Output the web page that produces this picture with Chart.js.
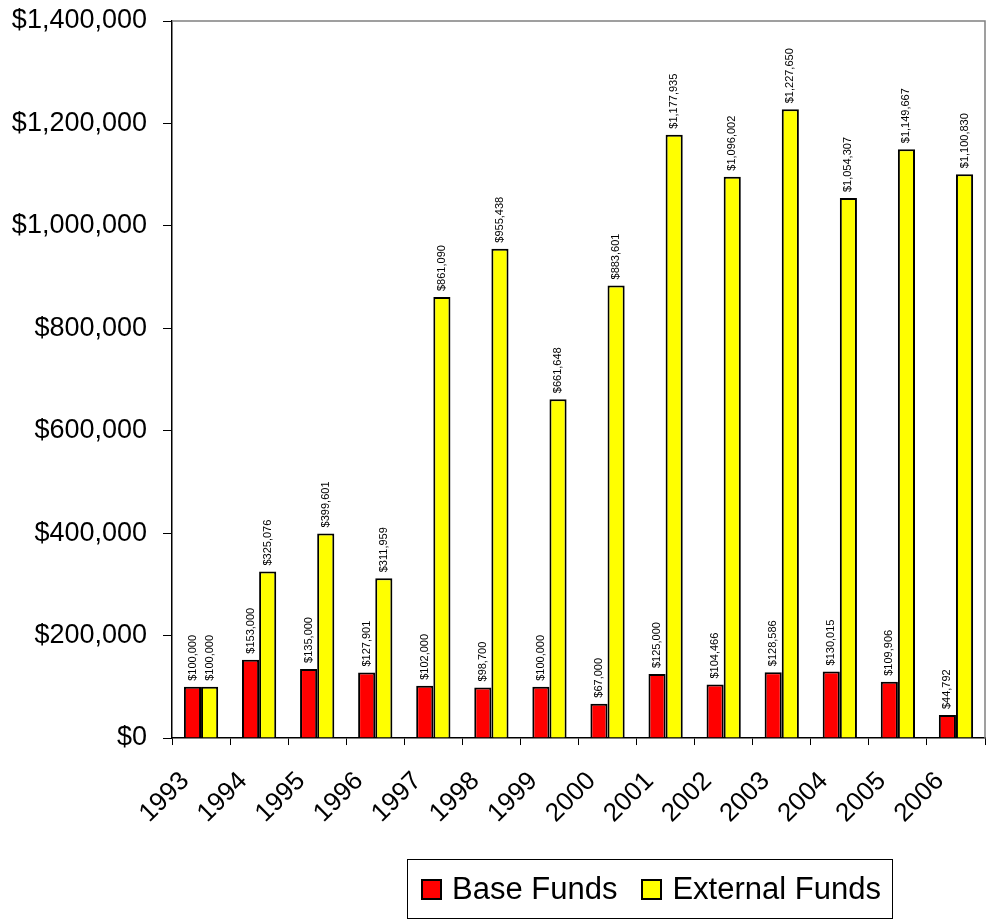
<!DOCTYPE html>
<html>
<head>
<meta charset="utf-8">
<script src="https://cdn.jsdelivr.net/npm/chart.js@4.4.1/dist/chart.umd.min.js"></script>
<style>
  body { margin: 0; background: #fff; }
  #wrap { position: relative; width: 987px; height: 920px; }
  #legend {
    position: absolute; left: 407px; top: 859px; width: 486px; height: 60px;
    border: 1px solid #000; box-sizing: border-box; padding-left: 13px;
    font-family: Arial, "Liberation Sans", sans-serif; font-size: 31px; color: #000;
    display: flex; align-items: center; justify-content: flex-start; white-space: nowrap;
  }
  #legend .item { display: flex; align-items: center; margin-right: 24px; flex: none; }
  #legend .sw {
    display: inline-block; width: 17px; height: 17px; border: 2px solid #000;
    margin-right: 10px;
  }
</style>
</head>
<body>
<div id="wrap">
  <canvas id="myChart" width="987" height="920"></canvas>
  <div id="legend">
    <span class="item"><span class="sw" style="background:#ff0000"></span>Base Funds</span>
    <span class="item"><span class="sw" style="background:#ffff00"></span>External Funds</span>
  </div>
</div>
<script>
const years = ['1993', '1994', '1995', '1996', '1997', '1998', '1999', '2000', '2001', '2002', '2003', '2004', '2005', '2006']
const baseFunds = [100000, 153000, 135000, 127901, 102000, 98700, 100000, 67000, 125000, 104466, 128586, 130015, 109906, 44792]
const externalFunds = [100000, 325076, 399601, 311959, 861090, 955438, 661648, 883601, 1177935, 1096002, 1227650, 1054307, 1149667, 1100830]

const money = v => '$' + v.toLocaleString('en-US')

// value labels written upwards above each bar
const barLabels = {
    id: 'barLabels',
    afterDatasetsDraw(chart) {
        const ctx = chart.ctx
        ctx.save()
        ctx.font = '11px Arial, "Liberation Sans", sans-serif'
        ctx.fillStyle = '#000'
        ctx.textAlign = 'left'
        ctx.textBaseline = 'middle'
        chart.data.datasets.forEach((ds, i) => {
            chart.getDatasetMeta(i).data.forEach((bar, j) => {
                ctx.save()
                ctx.translate(bar.x, bar.y - 6)
                ctx.rotate(-Math.PI / 2)
                ctx.fillText(money(ds.data[j]), 0, 0)
                ctx.restore()
            })
        })
        ctx.restore()
    }
}

// thin grey frame on top and right of the plot
const plotFrame = {
    id: 'plotFrame',
    beforeDatasetsDraw(chart) {
        const a = chart.chartArea, ctx = chart.ctx
        ctx.save()
        ctx.strokeStyle = '#808080'
        ctx.lineWidth = 1.5
        ctx.beginPath()
        ctx.moveTo(a.left, a.top)
        ctx.lineTo(a.right, a.top)
        ctx.lineTo(a.right, a.bottom)
        ctx.stroke()
        ctx.restore()
    }
}

// no label overhang padding, the layout padding decides the plot edges
const noOverhang = scale => {
    scale.paddingLeft = 0
    scale.paddingRight = 0
    scale.paddingTop = 0
    scale.paddingBottom = 0
}

new Chart(document.getElementById('myChart'), {
    type: 'bar',
    data: {
        labels: years,
        datasets: [{
            label: 'Base Funds',
            data: baseFunds,
            backgroundColor: '#ff0000',
            borderColor: '#000',
            borderWidth: 2
        }, {
            label: 'External Funds',
            data: externalFunds,
            backgroundColor: '#ffff00',
            borderColor: '#000',
            borderWidth: 2
        }]
    },
    options: {
        responsive: false,
        animation: false,
        layout: { padding: { top: 21, right: 2, bottom: 70, left: 6 } },
        datasets: { bar: { categoryPercentage: 0.59, barPercentage: 1 } },
        plugins: { legend: { display: false }, tooltip: { enabled: false } },
        scales: {
            x: {
                afterFit: noOverhang,
                grid: { drawOnChartArea: false, color: '#000', tickLength: 7, offset: true },
                border: { color: '#000', width: 1.5 },
                ticks: {
                    color: '#000', maxRotation: 45, minRotation: 45, padding: 21, labelOffset: -16,
                    font: { family: 'Arial, "Liberation Sans", sans-serif', size: 26 }
                }
            },
            y: {
                afterFit: scale => { noOverhang(scale); scale.width = 166 },
                min: 0, max: 1400000,
                grid: { drawOnChartArea: false, color: '#000', tickLength: 9 },
                border: { color: '#000', width: 1.5 },
                ticks: {
                    stepSize: 200000, color: '#000', padding: 16,
                    font: { family: 'Arial, "Liberation Sans", sans-serif', size: 27 },
                    callback: v => money(v)
                }
            }
        }
    },
    plugins: [barLabels, plotFrame]
})
</script>
</body>
</html>
